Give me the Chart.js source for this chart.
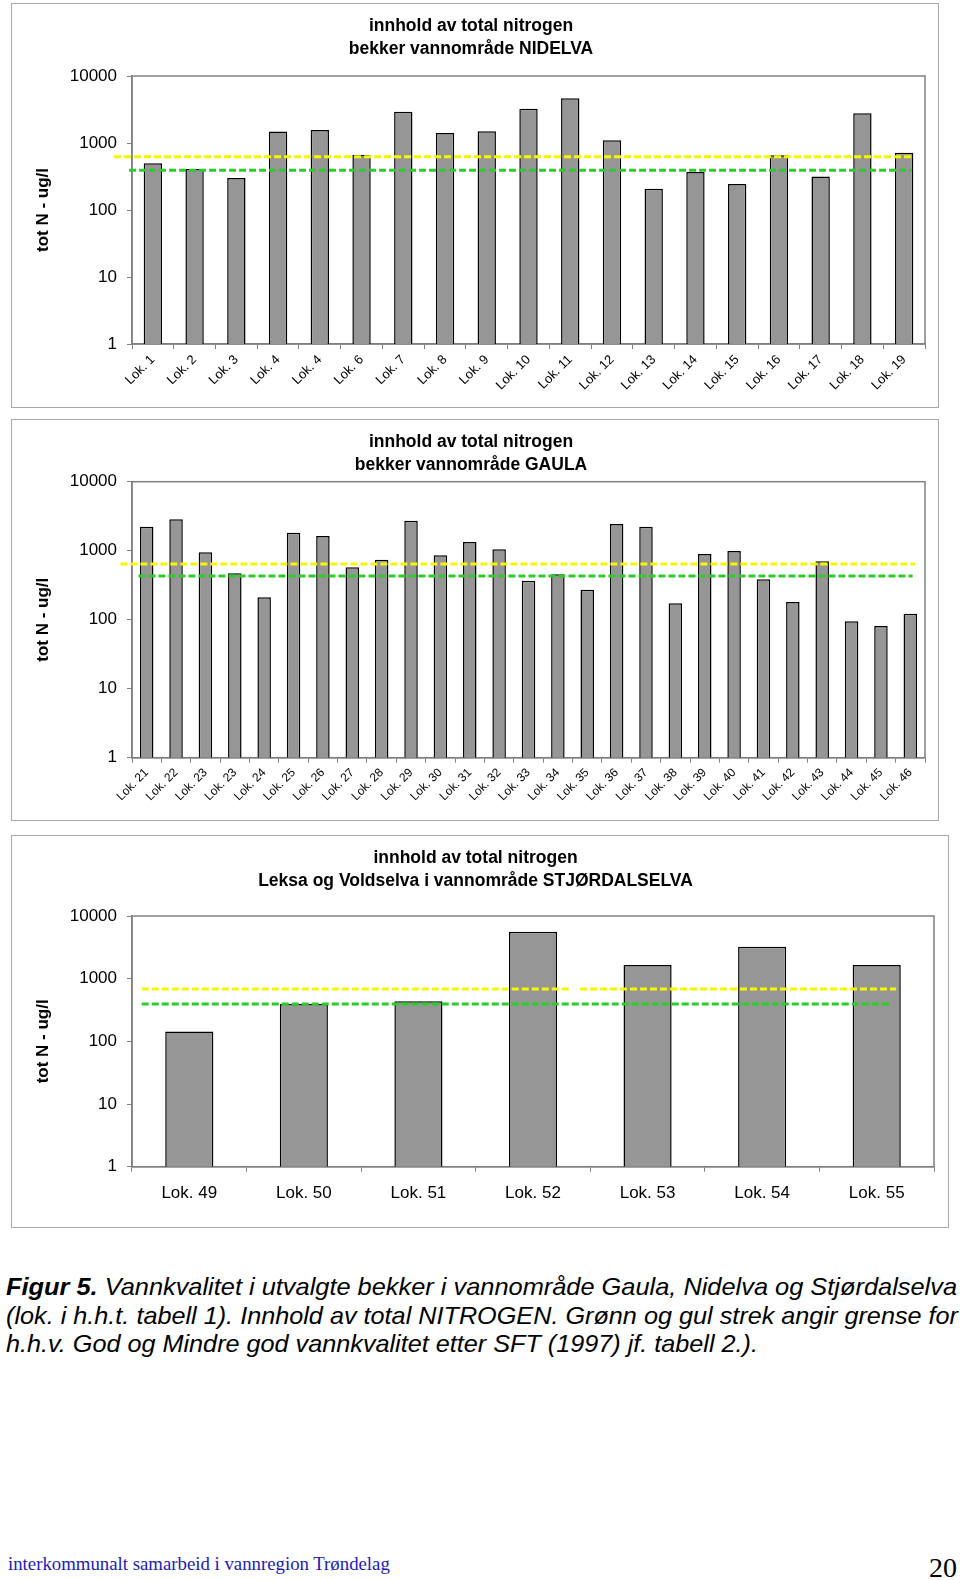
<!DOCTYPE html>
<html>
<head>
<meta charset="utf-8">
<script src="https://cdn.jsdelivr.net/npm/chart.js@4.4.1/dist/chart.umd.min.js"></script>
<style>
  body { margin: 0; background: #fff; width: 960px; height: 1580px; position: relative; overflow: hidden;
         font-family: "Liberation Sans", Arial, sans-serif; }
  .box { position: absolute; border: 1px solid #a8a8a8; box-sizing: border-box; }
  .box canvas { position: absolute; left: 0; top: 0; }
  #caption { position: absolute; left: 6px; top: 1273px; font-size: 24px; line-height: 28.7px; font-style: italic; color: #000; }
  #caption .cl { white-space: nowrap; width: max-content; transform-origin: 0 0; }
  #footer { position: absolute; left: 8px; top: 1553px; font-family: "Liberation Serif", "Times New Roman", serif;
            font-size: 18.8px; color: #1c1cb4; white-space: nowrap; }
  #pageno { position: absolute; right: 3px; top: 1552px; font-family: "Liberation Serif", "Times New Roman", serif;
            font-size: 28px; color: #000; }
</style>
</head>
<body>
<div class="box" style="left:11px;top:3px;width:928px;height:405px"><canvas id="c1" width="926" height="403"></canvas></div>
<div class="box" style="left:11px;top:419px;width:928px;height:402px"><canvas id="c2" width="926" height="400"></canvas></div>
<div class="box" style="left:11px;top:835px;width:938px;height:393px"><canvas id="c3" width="936" height="391"></canvas></div>

<div id="caption">
  <div class="cl" data-w="951"><b>Figur 5.</b> Vannkvalitet i utvalgte bekker i vannområde Gaula, Nidelva og Stjørdalselva</div>
  <div class="cl" data-w="952">(lok. i h.h.t. tabell 1). Innhold av total NITROGEN. Grønn og gul strek angir grense for</div>
  <div class="cl" data-w="752">h.h.v. God og Mindre god vannkvalitet etter SFT (1997) jf. tabell 2.).</div>
</div>
<div id="footer">interkommunalt samarbeid i vannregion Trøndelag</div>
<div id="pageno">20</div>

<script>
const yTicks = [1, 10, 100, 1000, 10000];
const yTitle = 'tot N - ug/l';

const nidelvaTitle = ['innhold av total nitrogen', 'bekker vannområde NIDELVA'];
const nidelvaLabels = ['Lok. 1', 'Lok. 2', 'Lok. 3', 'Lok. 4', 'Lok. 4', 'Lok. 6', 'Lok. 7', 'Lok. 8', 'Lok. 9', 'Lok. 10',
  'Lok. 11', 'Lok. 12', 'Lok. 13', 'Lok. 14', 'Lok. 15', 'Lok. 16', 'Lok. 17', 'Lok. 18', 'Lok. 19'];
const nidelvaValues = [500, 410, 300, 1480, 1560, 660, 2930, 1410, 1500, 3250, 4650, 1100, 208, 370, 245, 655, 315, 2770, 715];
const nidelvaLimits = [625, 391];             // gul (mindre god), grønn (god)
const nidelvaYellowSpan = [[-0.93, 18.2]];    // in category units
const nidelvaGreenSpan = [[-0.57, 18.18]];

const gaulaTitle = ['innhold av total nitrogen', 'bekker vannområde GAULA'];
const gaulaLabels = ['Lok. 21', 'Lok. 22', 'Lok. 23', 'Lok. 23', 'Lok. 24', 'Lok. 25', 'Lok. 26', 'Lok. 27', 'Lok. 28',
  'Lok. 29', 'Lok. 30', 'Lok. 31', 'Lok. 32', 'Lok. 33', 'Lok. 34', 'Lok. 35', 'Lok. 36', 'Lok. 37', 'Lok. 38',
  'Lok. 39', 'Lok. 40', 'Lok. 41', 'Lok. 42', 'Lok. 43', 'Lok. 44', 'Lok. 45', 'Lok. 46'];
const gaulaValues = [2230, 2850, 950, 470, 211, 1820, 1630, 575, 740, 2720, 860, 1340, 1050, 367, 454, 272,
  2440, 2230, 173, 896, 990, 385, 181, 702, 95, 81, 122];
const gaulaLimits = [641, 430];
const gaulaYellowSpan = [[-0.895, 26.16]];
const gaulaGreenSpan = [[-0.28, 26.08]];

const stjordalTitle = ['innhold av total nitrogen', 'Leksa og Voldselva i vannområde STJØRDALSELVA'];
const stjordalLabels = ['Lok. 49', 'Lok. 50', 'Lok. 51', 'Lok. 52', 'Lok. 53', 'Lok. 54', 'Lok. 55'];
const stjordalValues = [143, 395, 436, 5620, 1650, 3240, 1650];
const stjordalLimits = [682, 394];
const stjordalYellowSpan = [[-0.415, 3.33], [3.41, 6.17]];
const stjordalGreenSpan = [[-0.415, 6.13]];

const FONT = '"Liberation Sans", Arial, sans-serif';
const AXIS_GRAY = '#808080';

// grey frame round the plot area (top and right side in the original)
const plotFrame = {
  id: 'plotFrame',
  beforeDatasetsDraw(chart) {
    const { ctx, chartArea: a } = chart;
    ctx.save();
    ctx.strokeStyle = AXIS_GRAY;
    ctx.lineWidth = 1.5;
    ctx.strokeRect(a.left, a.top, a.right - a.left, a.bottom - a.top);
    ctx.restore();
  }
};

function limitLine(spans, value, color) {
  const data = [];
  spans.forEach((s, i) => {
    if (i > 0) data.push({ x: (spans[i - 1][1] + s[0]) / 2, y: null });
    data.push({ x: s[0], y: value }, { x: s[1], y: value });
  });
  return {
    type: 'line', data, xAxisID: 'xl', yAxisID: 'y',
    borderColor: color, borderWidth: 3, borderDash: [7, 3],
    pointRadius: 0, fill: false, clip: false, order: 0, spanGaps: false
  };
}

function makeChart(id, o) {
  new Chart(document.getElementById(id), {
    type: 'bar',
    data: {
      labels: o.labels,
      datasets: [
        limitLine(o.yellowSpan, o.limits[0], '#f5f50a'),
        limitLine(o.greenSpan, o.limits[1], '#2bcc2b'),
        {
          type: 'bar', data: o.values, xAxisID: 'x', yAxisID: 'y', order: 1, grouped: false,
          backgroundColor: '#969696', borderColor: '#000', borderWidth: 1.5,
          categoryPercentage: 1, barPercentage: o.barPct
        }
      ]
    },
    options: {
      responsive: false,
      animation: false,
      layout: { padding: { left: 5, right: o.padRight, top: 0, bottom: 0 } },
      plugins: {
        legend: { display: false },
        tooltip: { enabled: false },
        title: {
          display: true, text: o.title, color: '#000',
          font: { family: FONT, size: 17.5, weight: 'bold', lineHeight: '23px' },
          padding: { top: o.titlePad[0], bottom: o.titlePad[1] }
        }
      },
      scales: {
        x: {
          type: 'category', offset: true,
          afterFit: (s) => { s.height = o.xHeight; },
          border: { color: AXIS_GRAY, width: 1.5 },
          grid: { offset: true, drawOnChartArea: false, drawTicks: true, tickLength: 5, color: AXIS_GRAY, lineWidth: 1 },
          ticks: {
            autoSkip: false, minRotation: o.rotation, maxRotation: o.rotation,
            color: '#000', padding: o.xPad, font: { family: FONT, size: o.xFont }
          }
        },
        xl: { type: 'linear', display: false, min: -0.5, max: o.labels.length - 0.5, offset: false },
        y: {
          type: 'logarithmic', min: yTicks[0], max: yTicks[yTicks.length - 1],
          afterFit: (s) => { s.width = 115; },
          afterBuildTicks: (s) => { s.ticks = yTicks.map(v => ({ value: v })); },
          border: { color: AXIS_GRAY, width: 1.5 },
          grid: { drawOnChartArea: false, drawTicks: true, tickLength: 5, color: AXIS_GRAY },
          ticks: { color: '#000', padding: 10, font: { family: FONT, size: 17 }, callback: (v) => String(v) },
          title: {
            display: true, text: yTitle, color: '#000',
            font: { family: FONT, size: 17, weight: 'bold' }, padding: { top: 16, bottom: 0 }
          }
        }
      }
    },
    plugins: [plotFrame]
  });
}

makeChart('c1', {
  title: nidelvaTitle, labels: nidelvaLabels, values: nidelvaValues, limits: nidelvaLimits,
  yellowSpan: nidelvaYellowSpan, greenSpan: nidelvaGreenSpan,
  barPct: 0.44, padRight: 13, titlePad: [11, 15], xHeight: 63, rotation: 45, xPad: 3, xFont: 13
});
makeChart('c2', {
  title: gaulaTitle, labels: gaulaLabels, values: gaulaValues, limits: gaulaLimits,
  yellowSpan: gaulaYellowSpan, greenSpan: gaulaGreenSpan,
  barPct: 0.46, padRight: 13, titlePad: [10.5, 5.2], xHeight: 62.3, rotation: 45, xPad: 3, xFont: 12
});
makeChart('c3', {
  title: stjordalTitle, labels: stjordalLabels, values: stjordalValues, limits: stjordalLimits,
  yellowSpan: stjordalYellowSpan, greenSpan: stjordalGreenSpan,
  barPct: 0.42, padRight: 14, titlePad: [10.5, 23.5], xHeight: 60.3, rotation: 0, xPad: 11, xFont: 17
});

// squeeze caption lines to the width they take in the original
document.querySelectorAll('#caption .cl').forEach((el) => {
  const w = el.getBoundingClientRect().width;
  el.style.transform = `scaleX(${Number(el.dataset.w) / w})`;
});
</script>
</body>
</html>
